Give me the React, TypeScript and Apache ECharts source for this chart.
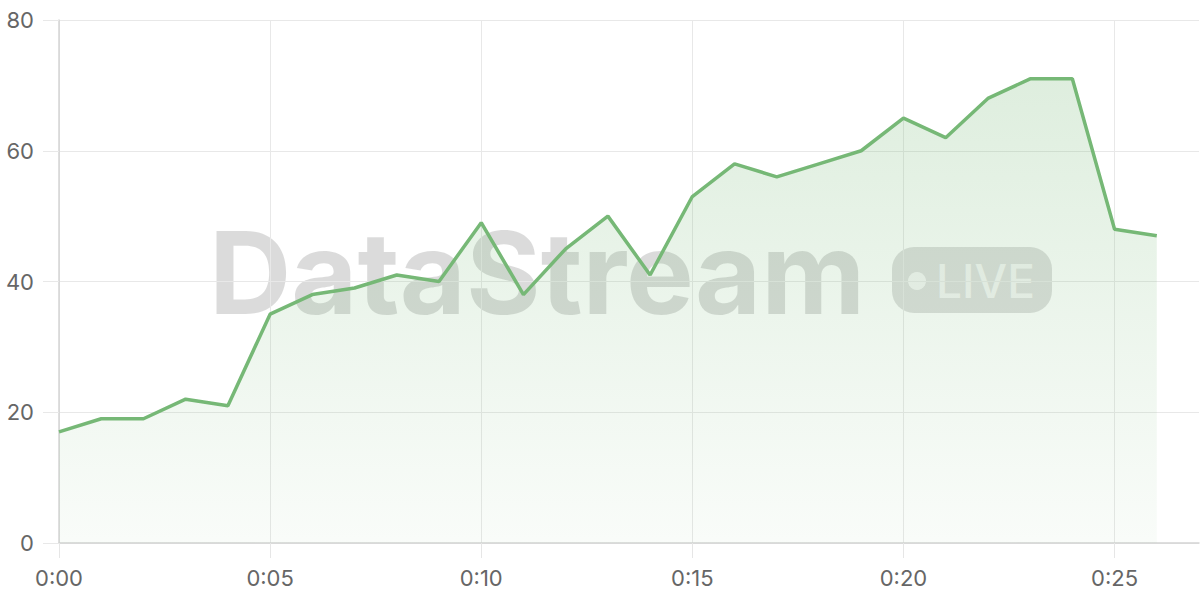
import { useEffect, useRef } from 'react';
import * as echarts from 'echarts';

// minutes on the x axis (last slot is empty, axis runs one step past the data)
const times = [
  '0:00', '0:01', '0:02', '0:03', '0:04', '0:05', '0:06', '0:07', '0:08', '0:09',
  '0:10', '0:11', '0:12', '0:13', '0:14', '0:15', '0:16', '0:17', '0:18', '0:19',
  '0:20', '0:21', '0:22', '0:23', '0:24', '0:25', '0:26', '0:27',
];

const values = [
  17, 19, 19, 22, 21, 35, 38, 39, 41, 40,
  49, 38, 45, 50, 41, 53, 58, 56, 58, 60,
  65, 62, 68, 71, 71, 48, 47,
];

const yTicks = { min: 0, max: 80, interval: 20 };

const LINE = '#76b876';
const FONT = 'Inter, "Noto Sans", sans-serif';

export default function App() {
  const chartRef = useRef<HTMLDivElement>(null);

  useEffect(() => {
    if (!chartRef.current) return;
    const chart = echarts.init(chartRef.current, undefined, { renderer: 'svg' });

    const option: echarts.EChartsOption = {
      animation: false,
      grid: { left: 59, right: 1, top: 20, bottom: 57 },
      xAxis: {
        type: 'category',
        data: times,
        boundaryGap: false,
        axisLine: { lineStyle: { color: '#d4d4d4', width: 1.5 } },
        axisTick: { show: true, interval: 4, length: 15, lineStyle: { color: '#e6e6e6' } },
        axisLabel: { interval: 4, margin: 24, fontSize: 22, color: '#666', fontFamily: FONT },
        splitLine: { show: true, interval: 4, lineStyle: { color: '#e8e8e8' } },
      },
      yAxis: {
        type: 'value',
        min: yTicks.min,
        max: yTicks.max,
        interval: yTicks.interval,
        axisLine: { show: true, lineStyle: { color: '#d4d4d4', width: 1.5 } },
        axisTick: { show: true, length: 16, lineStyle: { color: '#e8e8e8' } },
        axisLabel: { margin: 25, fontSize: 22, color: '#666', fontFamily: FONT },
        splitLine: { lineStyle: { color: '#e8e8e8' } },
      },
      graphic: [
        {
          type: 'group',
          z: 1,
          silent: true,
          children: [
            {
              type: 'text',
              x: 209,
              y: 272,
              style: {
                text: 'DataStream',
                font: `bold 114px ${FONT}`,
                fill: 'rgba(0,0,0,0.14)',
                verticalAlign: 'middle',
                align: 'left',
              },
            },
            {
              type: 'rect',
              shape: { x: 892, y: 247, width: 160, height: 66, r: 22 },
              style: { fill: 'rgba(0,0,0,0.13)' },
            },
            {
              type: 'circle',
              shape: { cx: 917, cy: 281, r: 9 },
              style: { fill: 'rgba(255,255,255,0.7)' },
            },
            {
              type: 'text',
              x: 936,
              y: 281,
              style: {
                text: 'LIVE',
                font: `500 46px ${FONT}`,
                fill: 'rgba(255,255,255,0.7)',
                verticalAlign: 'middle',
                align: 'left',
              },
            },
          ],
        },
      ],
      series: [
        {
          type: 'line',
          data: values,
          symbol: 'none',
          z: 3,
          lineStyle: { color: LINE, width: 3.5 },
          areaStyle: {
            color: new echarts.graphic.LinearGradient(0, 0, 0, 1, [
              { offset: 0, color: 'rgba(118,184,118,0.34)' },
              { offset: 1, color: 'rgba(118,184,118,0.06)' },
            ]),
          },
        },
      ],
    };

    chart.setOption(option);
    return () => chart.dispose();
  }, []);

  return (
    <div
      ref={chartRef}
      style={{ position: 'fixed', left: 0, top: 0, width: 1200, height: 600, background: '#fff' }}
    />
  );
}
